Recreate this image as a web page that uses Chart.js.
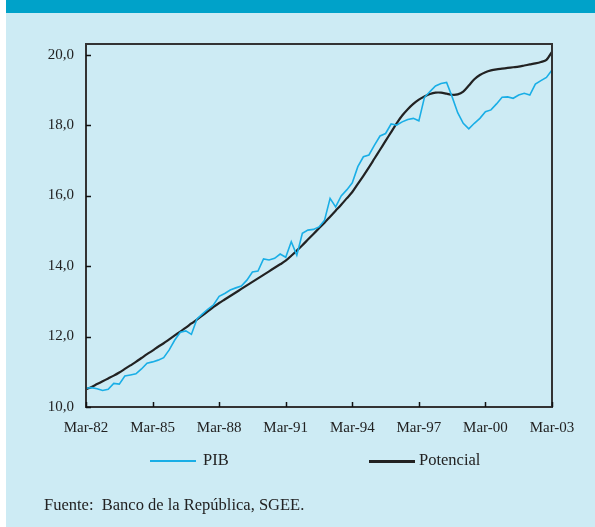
<!DOCTYPE html>
<html>
<head>
<meta charset="utf-8">
<script src="https://cdn.jsdelivr.net/npm/chart.js@4/dist/chart.umd.min.js"></script>
<style>
  html, body { margin: 0; padding: 0; background: #ffffff; }
  #wrap { position: relative; width: 595px; height: 527px; overflow: hidden; }
  #panel { position: absolute; left: 6px; top: 0; width: 589px; height: 527px; background: #cdebf4; }
  #band { position: absolute; left: 6px; top: 0; width: 589px; height: 13px; background: #00a2c9; }
  #chart { position: absolute; left: 0; top: 0; }
  .leg { position: absolute; font-family: "Liberation Serif", "DejaVu Serif", serif; font-size: 16.5px; color: #222; }
  .legline { position: absolute; height: 2px; }
  #src { position: absolute; left: 44px; top: 495px; font-family: "Liberation Serif", "DejaVu Serif", serif; font-size: 16.5px; color: #222; white-space: pre; }
</style>
</head>
<body>
<div id="wrap">
  <div id="panel"></div>
  <div id="band"></div>
  <canvas id="chart" width="595" height="527"></canvas>
  <div class="legline" style="left:150px; top:460px; width:46px; background:#19aee6;"></div>
  <div class="leg" style="left:203px; top:450px;">PIB</div>
  <div class="legline" style="left:369px; top:460px; width:46px; height:2.5px; background:#222;"></div>
  <div class="leg" style="left:419px; top:450px;">Potencial</div>
  <div id="src">Fuente:  Banco de la República, SGEE.</div>
</div>
<script>
// quarterly series, Mar-82 .. Mar-03 (log scale values)
const firstYear = 1982;
const lastYear = 2003;
const xTickLabels = ['Mar-82', 'Mar-85', 'Mar-88', 'Mar-91', 'Mar-94', 'Mar-97', 'Mar-00', 'Mar-03'];
const yTicks = [10, 12, 14, 16, 18, 20];

const pib = [
    10.53, 10.55, 10.52, 10.47, 10.50, 10.67, 10.65, 10.88, 10.91, 10.94,
    11.08, 11.24, 11.28, 11.33, 11.40, 11.62, 11.90, 12.12, 12.16, 12.06,
    12.50, 12.64, 12.78, 12.90, 13.14, 13.22, 13.32, 13.38, 13.43, 13.60,
    13.83, 13.86, 14.20, 14.17, 14.22, 14.34, 14.25, 14.69, 14.31, 14.93,
    15.02, 15.04, 15.11, 15.30, 15.92, 15.68, 15.99, 16.16, 16.36, 16.82,
    17.10, 17.15, 17.43, 17.69, 17.76, 18.03, 18.00, 18.09, 18.16, 18.19,
    18.12, 18.78, 18.95, 19.11, 19.18, 19.21, 18.80, 18.35, 18.05, 17.89,
    18.05, 18.19, 18.38, 18.43, 18.60, 18.79, 18.80, 18.76, 18.85, 18.90,
    18.85, 19.16, 19.26, 19.35, 19.56
];

const potencial = [
    10.50, 10.57, 10.65, 10.73, 10.81, 10.89, 10.98, 11.08, 11.18, 11.28,
    11.39, 11.50, 11.60, 11.71, 11.81, 11.92, 12.03, 12.14, 12.25, 12.37,
    12.48, 12.60, 12.72, 12.84, 12.95, 13.05, 13.15, 13.25, 13.35, 13.45,
    13.55, 13.65, 13.75, 13.85, 13.95, 14.05, 14.15, 14.29, 14.44, 14.59,
    14.75, 14.91, 15.07, 15.23, 15.40, 15.57, 15.74, 15.92, 16.10, 16.33,
    16.56, 16.80, 17.05, 17.30, 17.55, 17.80, 18.05, 18.27, 18.45, 18.60,
    18.72, 18.81, 18.88, 18.92, 18.92, 18.89, 18.86, 18.87, 18.95, 19.12,
    19.30, 19.42, 19.50, 19.55, 19.58, 19.60, 19.62, 19.64, 19.66, 19.69,
    19.72, 19.75, 19.79, 19.85, 20.08
];

// quarter labels: Mar, Jun, Sep, Dic for each year
const months = ['Mar', 'Jun', 'Sep', 'Dic'];
const labels = [];
for (let y = firstYear; y <= lastYear; y++) {
    for (let q = 0; q < 4; q++) {
        if (y === lastYear && q > 0) break;
        labels.push(months[q] + '-' + String(y).slice(2));
    }
}

const serif = '"Liberation Serif", "DejaVu Serif", serif';

// frame around the plot area plus short inward tick marks
const framePlugin = {
    id: 'frame',
    afterDraw(chart) {
        const ctx = chart.ctx;
        const a = chart.chartArea;
        const xs = chart.scales.x;
        const ys = chart.scales.y;
        ctx.save();
        ctx.strokeStyle = '#333';
        ctx.lineWidth = 2;
        ctx.strokeRect(a.left, a.top, a.right - a.left, a.bottom - a.top);
        ctx.lineWidth = 1.5;
        ctx.strokeStyle = '#111';
        ctx.beginPath();
        yTicks.forEach(v => {
            const py = Math.round(ys.getPixelForValue(v)) + 0.5;
            ctx.moveTo(a.left, py);
            ctx.lineTo(a.left + 5, py);
        });
        labels.forEach((l, i) => {
            if (xTickLabels.indexOf(l) < 0) return;
            const px = Math.round(xs.getPixelForValue(i)) + 0.5;
            ctx.moveTo(px, a.bottom);
            ctx.lineTo(px, a.bottom - 5);
        });
        ctx.stroke();
        ctx.restore();
    }
};

new Chart(document.getElementById('chart').getContext('2d'), {
    type: 'line',
    data: {
        labels: labels,
        datasets: [{
            label: 'PIB',
            data: pib,
            borderColor: '#19aee6',
            borderWidth: 1.6,
            pointRadius: 0,
            tension: 0,
            fill: false
        }, {
            label: 'Potencial',
            data: potencial,
            borderColor: '#222222',
            borderWidth: 2.2,
            pointRadius: 0,
            tension: 0.3,
            fill: false
        }]
    },
    options: {
        responsive: false,
        animation: false,
        events: [],
        layout: { padding: { left: 0, right: 43, top: 44, bottom: 90 } },
        plugins: {
            legend: { display: false },
            tooltip: { enabled: false }
        },
        scales: {
            x: {
                offset: false,
                grid: { display: false, drawTicks: false },
                border: { display: false },
                afterFit: function(scale) { scale.height = 30; },
                ticks: {
                    autoSkip: false,
                    maxRotation: 0,
                    padding: 12,
                    color: '#222',
                    font: { family: serif, size: 15 },
                    callback: function(value, index) {
                        const l = labels[index];
                        return xTickLabels.indexOf(l) >= 0 ? l : null;
                    }
                }
            },
            y: {
                min: 10,
                max: 20.3,
                grid: { display: false, drawTicks: false },
                border: { display: false },
                afterFit: function(scale) { scale.width = 86; },
                afterBuildTicks: function(scale) {
                    scale.ticks = yTicks.map(v => ({ value: v }));
                },
                ticks: {
                    padding: 12,
                    color: '#222',
                    font: { family: serif, size: 15 },
                    callback: function(value) {
                        return value.toFixed(1).replace('.', ',');
                    }
                }
            }
        }
    },
    plugins: [framePlugin]
});
</script>
</body>
</html>
